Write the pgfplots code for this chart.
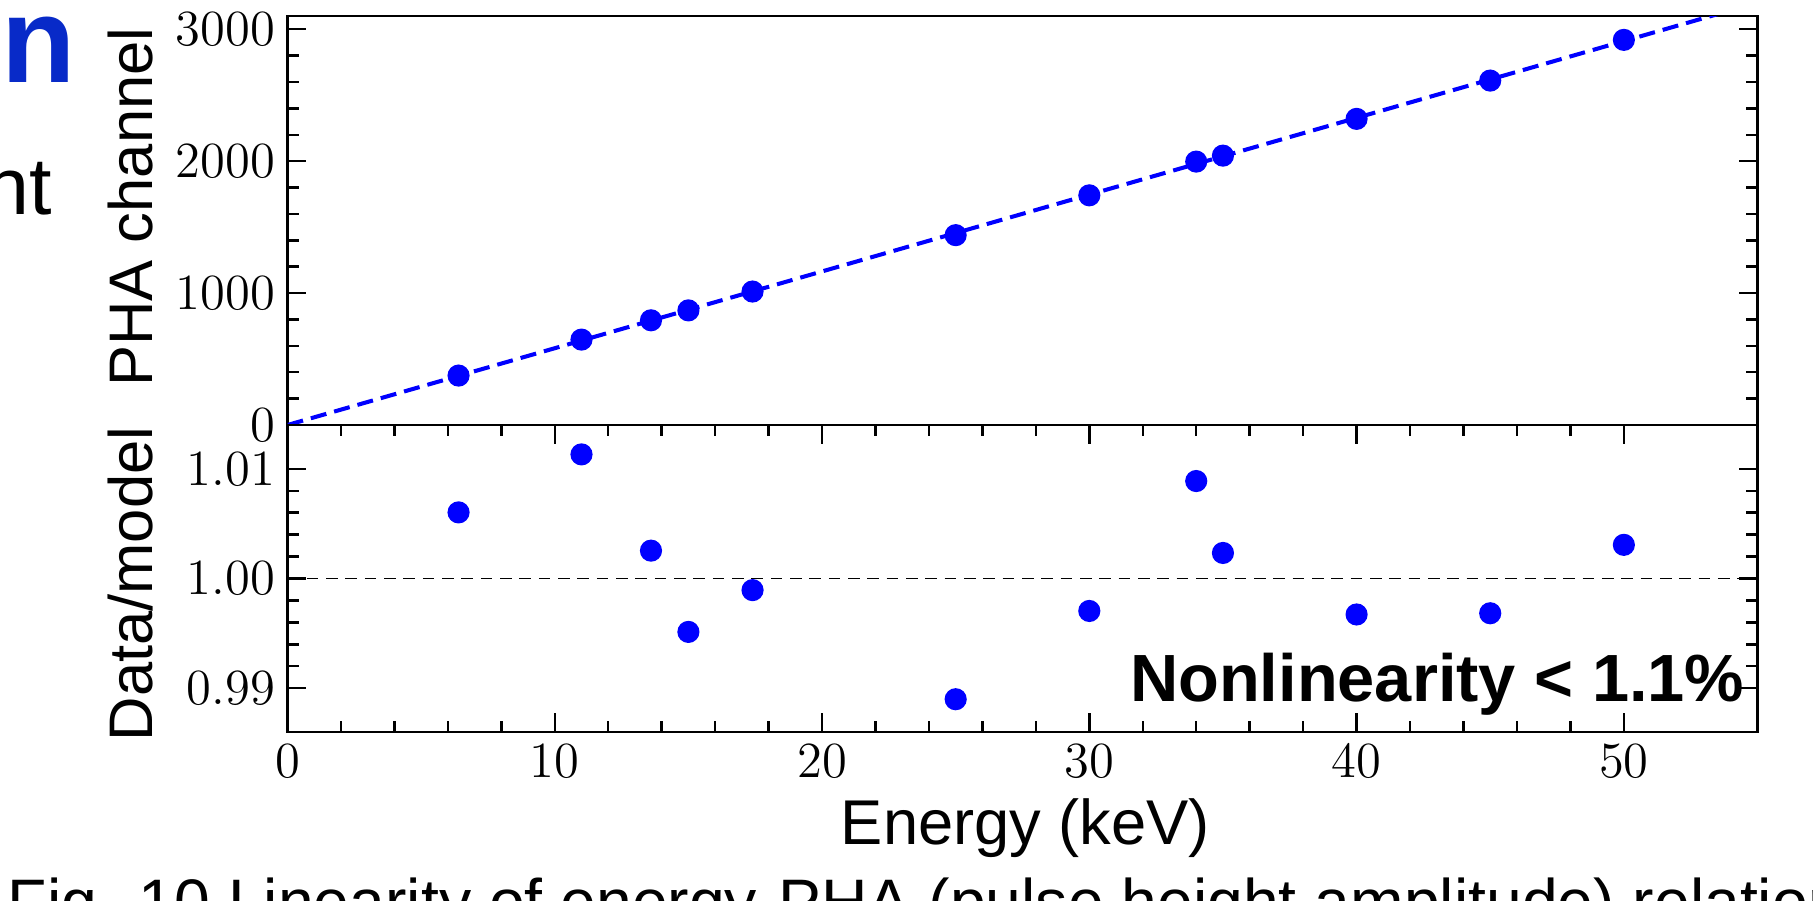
\documentclass[border=0pt]{standalone}
\usepackage{pgfplots}
\pgfplotsset{compat=1.18}
\usepackage{fontspec}
\setmainfont{Liberation Sans}
\definecolor{slideblue}{RGB}{8,42,200}
\pgfplotstableread{
E PHA ratio
6.4 374.7 1.00603
11.0 647.4 1.01132
13.6 793.5 1.00254
15.0 868.7 0.99513
17.4 1011.6 0.99894
25.0 1439.0 0.98899
30.0 1740.8 0.99704
34.0 1996.4 1.00889
35.0 2041.7 1.00233
40.0 2320.4 0.99672
45.0 2610.6 0.99683
50.0 2919.0 1.00307
}\datatable
\pgfplotsset{
  common/.style={
    scale only axis, width=14.70cm,
    xmin=0, xmax=55,
    axis line style={line width=0.7pt},
    every tick/.style={black, line width=0.7pt},
    major tick length=5.4pt, minor tick length=3.2pt,
    tick align=inside,
    ticklabel style={font=\fontsize{15.7}{18}\selectfont},
    label style={font=\fontsize{17.5}{20}\selectfont},
    ytick pos=both, yticklabel pos=left,
  },
  datamark/.style={only marks, mark=*, mark size=2.95pt, color=blue, mark options={draw=blue, fill=blue}},
}
\begin{document}
\begin{tikzpicture}[x=1cm,y=1cm]
\useasboundingbox (0,0) rectangle (18.13,9);
\clip (0,0) rectangle (18.13,9);
% slide text around the figure
\node[anchor=base east, inner sep=0, text=slideblue, font=\fontsize{34.6}{40}\selectfont\bfseries] at (0.76,8.17) {n};
\node[anchor=base east, inner sep=0, font=\fontsize{23}{27}\selectfont] at (0.53,6.85) {nt};
\node[anchor=base west, inner sep=0, font=\fontsize{18.3}{22}\selectfont] at (0.07,-0.24) {Fig. 10 Linearity of energy-PHA (pulse height amplitude) relation};
% top panel
\begin{axis}[common,
  at={(2.875cm,4.75cm)}, anchor=south west, height=4.09cm,
  ymin=0, ymax=3100,
  ytick={0,1000,2000,3000}, minor y tick num=4,
  xtick=\empty,
  scaled y ticks=false,
  yticklabel style={/pgf/number format/1000 sep={}},
  ylabel={PHA channel},
  ylabel style={at={(axis description cs:-0.092,0.533)}, anchor=base},
]
\addplot[blue, line width=1.15pt, dash pattern=on 4.6pt off 2.3pt] coordinates {(0,0) (55,3201)};
\addplot[datamark] table[x=E, y=PHA] {\datatable};
\end{axis}
% bottom panel
\begin{axis}[common,
  at={(2.875cm,1.68cm)}, anchor=south west, height=3.07cm,
  ymin=0.986, ymax=1.014,
  ytick={0.99,1.00,1.01}, yticklabels={$0.99$,$1.00$,$1.01$},
  minor y tick num=4,
  xtick={0,10,20,30,40,50}, minor x tick num=4,
  xtick pos=both, xticklabel pos=bottom,
  ylabel={Data/model},
  ylabel style={at={(axis description cs:-0.092,0.482)}, anchor=base},
  xlabel={Energy (keV)},
  xlabel style={at={(axis description cs:0.502,-0.368)}, anchor=base, font=\fontsize{18}{21}\selectfont},
]
\addplot[black, line width=0.55pt, dash pattern=on 3.3pt off 2.2pt] coordinates {(0,1) (55,1)};
\addplot[datamark] table[x=E, y=ratio] {\datatable};
\end{axis}
\node[anchor=base east, inner sep=0, font=\fontsize{19}{22}\selectfont\bfseries] at (17.45,1.99) {Nonlinearity < 1.1\%};
\end{tikzpicture}
\end{document}
